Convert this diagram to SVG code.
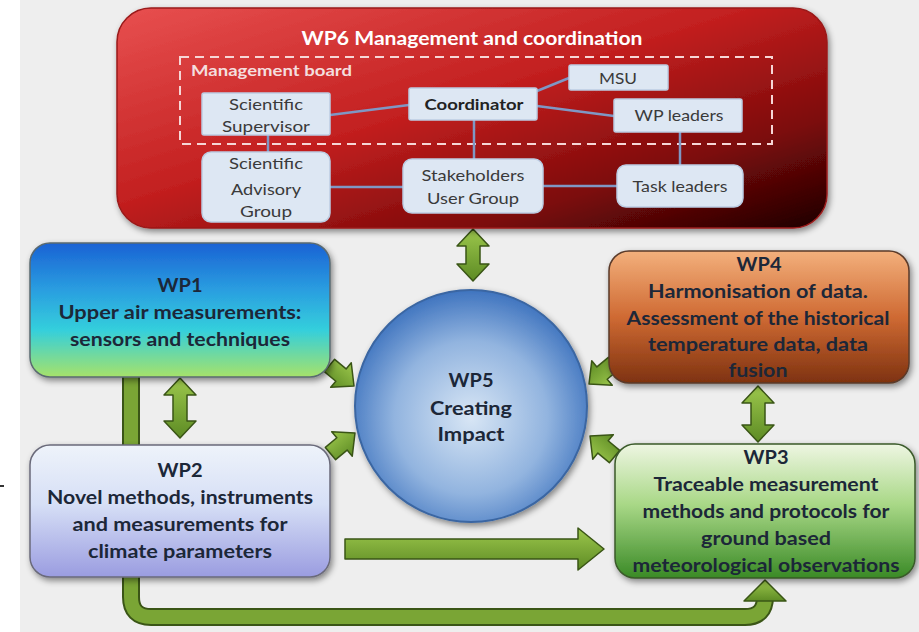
<svg xmlns="http://www.w3.org/2000/svg" width="919" height="632" viewBox="0 0 919 632">
<defs>
<style>
.t{font-family:Lato,"Liberation Sans",sans-serif;font-weight:bold;fill:#1c2738;text-anchor:middle}
.wp{font-size:18px}
.in{font-family:Lato,"Liberation Sans",sans-serif;font-size:16px;fill:#3a3a3a;text-anchor:middle}
.ib{fill:#dde7f3;stroke:#bccde3;stroke-width:1.5}
.ln{stroke:#7f97c4;stroke-width:2.5;fill:none}
.ar{fill:url(#gArrow);stroke:#3a5516;stroke-width:1.5;stroke-linejoin:round}
</style>
<filter id="sh" x="-10%" y="-10%" width="125%" height="130%">
<feDropShadow dx="2" dy="3" stdDeviation="3" flood-color="#000" flood-opacity="0.45"/>
</filter>
<linearGradient id="gWP6" x1="0" y1="0" x2="1" y2="1">
<stop offset="0" stop-color="#e85050"/>
<stop offset="0.45" stop-color="#c21f1f"/>
<stop offset="0.75" stop-color="#7c0a0a"/>
<stop offset="1" stop-color="#1c0000"/>
</linearGradient>
<linearGradient id="gWP1" x1="0" y1="0" x2="0" y2="1">
<stop offset="0" stop-color="#1a62d4"/>
<stop offset="0.35" stop-color="#2a9ee0"/>
<stop offset="0.65" stop-color="#34cfdc"/>
<stop offset="1" stop-color="#a6e26a"/>
</linearGradient>
<linearGradient id="gWP2" x1="0" y1="0" x2="0" y2="1">
<stop offset="0" stop-color="#eef3fa"/>
<stop offset="0.45" stop-color="#d6dff6"/>
<stop offset="1" stop-color="#9a9ce0"/>
</linearGradient>
<linearGradient id="gWP4" x1="0" y1="0" x2="0" y2="1">
<stop offset="0" stop-color="#f3b07c"/>
<stop offset="0.5" stop-color="#cf6a33"/>
<stop offset="1" stop-color="#7e3210"/>
</linearGradient>
<linearGradient id="gWP3" x1="0" y1="0" x2="0" y2="1">
<stop offset="0" stop-color="#eef6e2"/>
<stop offset="0.45" stop-color="#a9d887"/>
<stop offset="1" stop-color="#3a8a26"/>
</linearGradient>
<radialGradient id="gWP5" cx="0.5" cy="0.55" r="0.55">
<stop offset="0" stop-color="#d8e6f5"/>
<stop offset="0.6" stop-color="#92b4df"/>
<stop offset="1" stop-color="#3f74bf"/>
</radialGradient>
<linearGradient id="gArrow" x1="0" y1="0" x2="0" y2="1">
<stop offset="0" stop-color="#9cc74c"/>
<stop offset="1" stop-color="#5d8b24"/>
</linearGradient>
<path id="sa" d="M0,0 L-17,-16 L-17,-8 L-32,-8 L-32,8 L-17,8 L-17,16 Z"/>
</defs>

<rect x="0" y="0" width="919" height="632" fill="#eeeeee"/>
<rect x="0" y="0" width="20" height="632" fill="#ffffff"/>
<rect x="0" y="485" width="4" height="2" fill="#333333"/>

<g id="connectors">
<path d="M131,370 V597 Q131,617 151,617 H745 Q765,617 765,597 V598" fill="none" stroke="#3a5516" stroke-width="18" stroke-linejoin="round"/>
<path d="M131,370 V597 Q131,617 151,617 H745 Q765,617 765,597 V598" fill="none" stroke="#7aa535" stroke-width="14" stroke-linejoin="round"/>
<path class="ar" d="M765,580 L786,601 L744,601 Z"/>
<path class="ar" d="M345,539 H578 V528 L604,549 L578,570 V559 H345 Z"/>
<path class="ar" d="M473,229 L489,246 L480,246 L480,264 L489,264 L473,281 L457,264 L466,264 L466,246 L457,246 Z"/>
<path class="ar" d="M180,378 L196,395 L187,395 L187,421 L196,421 L180,438 L164,421 L173,421 L173,395 L164,395 Z"/>
<path class="ar" d="M758,386 L774,403 L765,403 L765,425 L774,425 L758,442 L742,425 L751,425 L751,403 L742,403 Z"/>
<use href="#sa" class="ar" transform="translate(354,386) rotate(40)"/>
<use href="#sa" class="ar" transform="translate(355,433) rotate(-40)"/>
<use href="#sa" class="ar" transform="translate(589,384) rotate(140)"/>
<use href="#sa" class="ar" transform="translate(590,436) rotate(220)"/>
</g>

<g id="wp6">
<rect x="117" y="8" width="710" height="220" rx="34" fill="url(#gWP6)" stroke="#9a1a1a" stroke-width="1.5" filter="url(#sh)"/>
<text x="472" y="45" class="t" style="fill:#ffffff;font-size:18px" textLength="341" lengthAdjust="spacingAndGlyphs">WP6 Management and coordination</text>
<rect x="180" y="57" width="592" height="87" fill="none" stroke="#f6d6d6" stroke-width="2" stroke-dasharray="9 6"/>
<text x="191" y="76" style="font-family:Lato,'Liberation Sans',sans-serif;font-weight:bold;font-size:16px;fill:#f4dede" textLength="161" lengthAdjust="spacingAndGlyphs">Management board</text>
<g id="wp6-lines">
<line class="ln" x1="330" y1="115" x2="409" y2="105"/>
<line class="ln" x1="537" y1="91" x2="569" y2="78"/>
<line class="ln" x1="537" y1="106" x2="614" y2="116"/>
<line class="ln" x1="474" y1="120" x2="474" y2="159"/>
<line class="ln" x1="680" y1="132" x2="680" y2="165"/>
<line class="ln" x1="268" y1="135" x2="268" y2="152"/>
<line class="ln" x1="330" y1="187" x2="403" y2="187"/>
<line class="ln" x1="543" y1="186" x2="617" y2="186"/>
</g>
</g>

<g id="sci-supervisor">
<rect class="ib" x="202" y="93" width="128" height="42" rx="2"/>
<text class="in" x="266" y="110" textLength="74" lengthAdjust="spacingAndGlyphs">Scientific</text>
<text class="in" x="266" y="132" textLength="88" lengthAdjust="spacingAndGlyphs">Supervisor</text>
</g>
<g id="coordinator">
<rect class="ib" x="409" y="88" width="128" height="32" rx="2"/>
<text class="in" x="474" y="110" style="font-weight:bold;fill:#222" textLength="99" lengthAdjust="spacingAndGlyphs">Coordinator</text>
</g>
<g id="msu">
<rect class="ib" x="569" y="65" width="99" height="25" rx="2"/>
<text class="in" x="618" y="84" textLength="38" lengthAdjust="spacingAndGlyphs">MSU</text>
</g>
<g id="wp-leaders">
<rect class="ib" x="614" y="99" width="128" height="33" rx="2"/>
<text class="in" x="679" y="121" textLength="89" lengthAdjust="spacingAndGlyphs">WP leaders</text>
</g>
<g id="sci-advisory">
<rect class="ib" x="202" y="152" width="128" height="70" rx="9"/>
<text class="in" x="266" y="169" textLength="74" lengthAdjust="spacingAndGlyphs">Scientific</text>
<text class="in" x="266" y="195" textLength="70" lengthAdjust="spacingAndGlyphs">Advisory</text>
<text class="in" x="266" y="217" textLength="52" lengthAdjust="spacingAndGlyphs">Group</text>
</g>
<g id="stakeholders">
<rect class="ib" x="403" y="159" width="140" height="54" rx="9"/>
<text class="in" x="473" y="181" textLength="103" lengthAdjust="spacingAndGlyphs">Stakeholders</text>
<text class="in" x="473" y="204" textLength="92" lengthAdjust="spacingAndGlyphs">User Group</text>
</g>
<g id="task-leaders">
<rect class="ib" x="617" y="165" width="126" height="42" rx="9"/>
<text class="in" x="680" y="192" textLength="95" lengthAdjust="spacingAndGlyphs">Task leaders</text>
</g>

<g id="wp1">
<rect x="30" y="243" width="300" height="134" rx="20" fill="url(#gWP1)" stroke="#5a6a70" stroke-width="1.5" filter="url(#sh)"/>
<text class="t wp" x="180" y="292" textLength="45" lengthAdjust="spacingAndGlyphs">WP1</text>
<text class="t wp" x="180" y="319" textLength="243" lengthAdjust="spacingAndGlyphs">Upper air measurements:</text>
<text class="t wp" x="180" y="346" textLength="220" lengthAdjust="spacingAndGlyphs">sensors and techniques</text>
</g>

<g id="wp2">
<rect x="30" y="445" width="300" height="132" rx="20" fill="url(#gWP2)" stroke="#6a6a7a" stroke-width="1.5" filter="url(#sh)"/>
<text class="t wp" x="180" y="477" textLength="45" lengthAdjust="spacingAndGlyphs">WP2</text>
<text class="t wp" x="180" y="504" textLength="266" lengthAdjust="spacingAndGlyphs">Novel methods, instruments</text>
<text class="t wp" x="180" y="531" textLength="215" lengthAdjust="spacingAndGlyphs">and measurements for</text>
<text class="t wp" x="180" y="558" textLength="184" lengthAdjust="spacingAndGlyphs">climate parameters</text>
</g>

<g id="wp5">
<circle cx="471" cy="406" r="116" fill="url(#gWP5)" stroke="#3a66a2" stroke-width="2" filter="url(#sh)"/>
<text class="t wp" x="471" y="387" textLength="45" lengthAdjust="spacingAndGlyphs">WP5</text>
<text class="t wp" x="471" y="415" textLength="82" lengthAdjust="spacingAndGlyphs">Creating</text>
<text class="t wp" x="471" y="441" textLength="67" lengthAdjust="spacingAndGlyphs">Impact</text>
</g>

<g id="wp4">
<rect x="609" y="251" width="300" height="132" rx="20" fill="url(#gWP4)" stroke="#5a3a2a" stroke-width="1.5" filter="url(#sh)"/>
<text class="t wp" x="759" y="271" textLength="45" lengthAdjust="spacingAndGlyphs">WP4</text>
<text class="t wp" x="758" y="298" textLength="220" lengthAdjust="spacingAndGlyphs">Harmonisation of data.</text>
<text class="t wp" x="758" y="325" textLength="263" lengthAdjust="spacingAndGlyphs">Assessment of the historical</text>
<text class="t wp" x="758" y="351" textLength="220" lengthAdjust="spacingAndGlyphs">temperature data, data</text>
<text class="t wp" x="758" y="377" textLength="59" lengthAdjust="spacingAndGlyphs">fusion</text>
</g>

<g id="wp3">
<rect x="615" y="444" width="300" height="134" rx="20" fill="url(#gWP3)" stroke="#3a5a2a" stroke-width="1.5" filter="url(#sh)"/>
<text class="t wp" x="766" y="464" textLength="45" lengthAdjust="spacingAndGlyphs">WP3</text>
<text class="t wp" x="766" y="491" textLength="225" lengthAdjust="spacingAndGlyphs">Traceable measurement</text>
<text class="t wp" x="766" y="518" textLength="247" lengthAdjust="spacingAndGlyphs">methods and protocols for</text>
<text class="t wp" x="766" y="545" textLength="130" lengthAdjust="spacingAndGlyphs">ground based</text>
<text class="t wp" x="766" y="572" textLength="267" lengthAdjust="spacingAndGlyphs">meteorological observations</text>
</g>
</svg>
